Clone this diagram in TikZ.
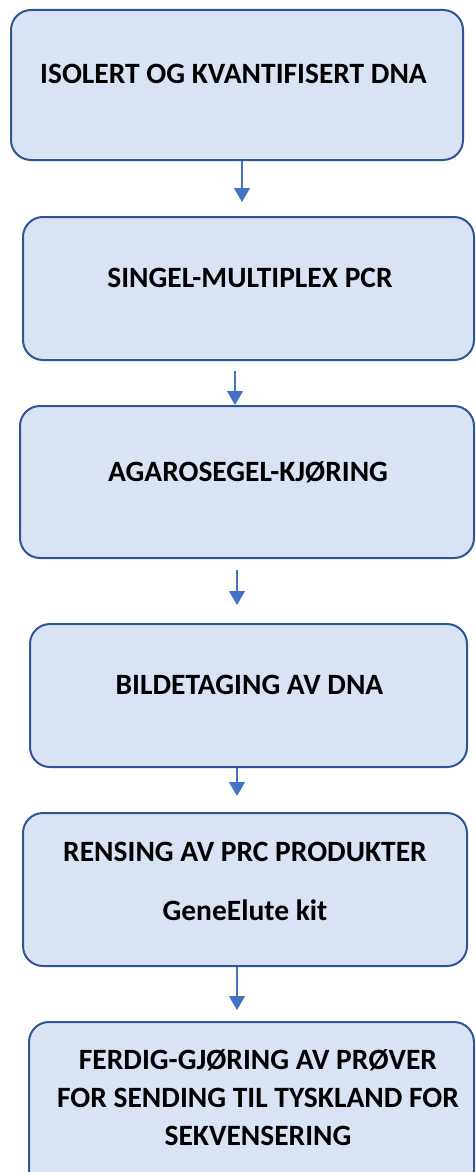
\documentclass[tikz,border=0pt]{standalone}
\usepackage{fontspec}
\setmainfont{Carlito}
\definecolor{boxFill}{HTML}{DAE3F3}
\definecolor{boxLine}{HTML}{2F5597}
\definecolor{flowBlue}{HTML}{4472C4}
\usetikzlibrary{arrows.meta}

\begin{document}
\begin{tikzpicture}[
        x=1pt, y=-1pt,
        stage/.style={rectangle, rounded corners=20pt, draw=boxLine, line width=2pt, fill=boxFill, inner sep=0pt},
        caption/.style={font=\fontsize{29.5}{38}\selectfont\bfseries, inner sep=0pt, align=center},
        flow/.style={draw=flowBlue, line width=1.3pt, -{Triangle[width=16pt, length=14pt]}}
    ]
        \useasboundingbox (0,0) rectangle (475,1172);
        \clip (0,0) rectangle (475,1172);

        % Stage 1
        \node[stage, minimum width=452pt, minimum height=150pt] (b1) at (237,85) {};
        \node[caption, anchor=base] (t1) at (233.5,83) {ISOLERT OG KVANTIFISERT DNA};

        % Stage 2
        \node[stage, minimum width=451pt, minimum height=143pt] (b2) at (248.5,288.5) {};
        \node[caption, anchor=base] (t2) at (250,287) {SINGEL-MULTIPLEX PCR};

        % Stage 3
        \node[stage, minimum width=454pt, minimum height=152pt] (b3) at (247,482) {};
        \node[caption, anchor=base] (t3) at (248,481) {AGAROSEGEL-KJØRING};

        % Stage 4
        \node[stage, minimum width=437pt, minimum height=143pt] (b4) at (248.5,695.5) {};
        \node[caption, anchor=base] (t4) at (249.5,694) {BILDETAGING AV DNA};

        % Stage 5
        \node[stage, minimum width=444pt, minimum height=153pt] (b5) at (245,889.5) {};
        \node[caption] (t5) at (245,881) {RENSING AV PRC PRODUKTER\\[21pt] GeneElute kit};

        % Stage 6
        \node[stage, minimum width=445pt, minimum height=168pt] (b6) at (251.5,1106) {};
        \node[caption] (t6) at (258,1098) {FERDIG-GJØRING AV PRØVER\\ FOR SENDING TIL TYSKLAND FOR\\ SEKVENSERING};

        % Arrows between stages
        \draw[flow, shorten >=14pt] ([xshift=5pt]b1.south) -- ([xshift=-6.5pt]b2.north);
        \draw[flow, shorten <=10pt] ([xshift=-13.5pt]b2.south) -- ([xshift=-12pt]b3.north);
        \draw[flow, shorten <=11pt, shorten >=18pt] ([xshift=-10pt]b3.south) -- ([xshift=-11.5pt]b4.north);
        \draw[flow, shorten >=16pt] ([xshift=-11.5pt]b4.south) -- ([xshift=-8pt]b5.north);
        \draw[flow, shorten >=11pt] ([xshift=-8pt]b5.south) -- ([xshift=-14.5pt]b6.north);
    \end{tikzpicture}
\end{document}
